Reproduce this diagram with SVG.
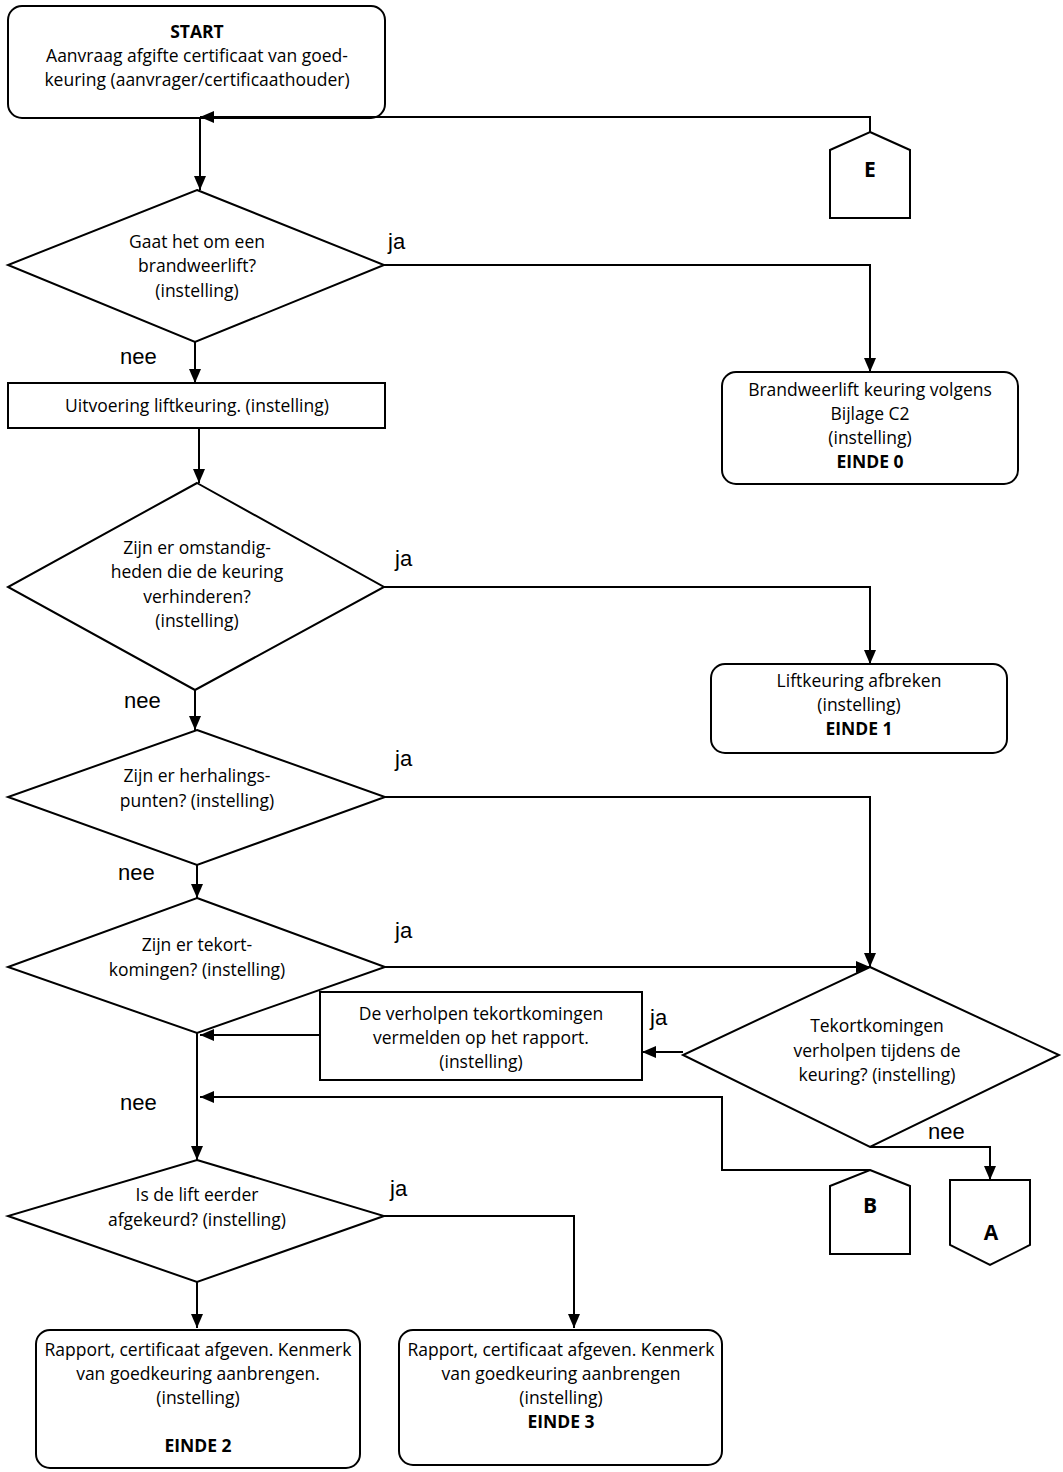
<svg xmlns="http://www.w3.org/2000/svg" width="1063" height="1472" viewBox="0 0 1063 1472">
<defs>
<marker id="arr" viewBox="0 0 14 12" refX="14" refY="6" markerWidth="14" markerHeight="12" markerUnits="userSpaceOnUse" orient="auto">
<path d="M0,0 L14,6 L0,12 Z" fill="#000"/>
</marker>
<style>
.shape{fill:#fff;stroke:#000;stroke-width:2}
.t{font-family:"Open Sans","Liberation Sans",Arial,sans-serif;font-size:17.5px;text-anchor:middle;fill:#000}
.b{font-weight:bold}
.lbl{font-family:"Liberation Sans",Arial,sans-serif;font-size:22px;fill:#000}
.con{fill:none;stroke:#000;stroke-width:2}
.conn .a{marker-end:url(#arr)}
</style>
</defs>
<rect width="1063" height="1472" fill="#fff"/>

<g id="start">
<rect class="shape" x="8" y="6" width="377" height="112" rx="14"/>
<text class="t b" x="197" y="38">START</text>
<text class="t" x="197" y="62">Aanvraag afgifte certificaat van goed-</text>
<text class="t" x="197" y="86">keuring (aanvrager/certificaathouder)</text>
</g>

<g id="E">
<polygon class="shape" points="870,132 910,150 910,218 830,218 830,150"/>
<text class="t b" x="870" y="177" style="font-size:21px">E</text>
</g>

<g id="q1">
<polygon class="shape" points="197,190 384,265 195,342 8,265"/>
<text class="t" x="197" y="248">Gaat het om een</text>
<text class="t" x="197" y="272">brandweerlift?</text>
<text class="t" x="197" y="297">(instelling)</text>
</g>

<g id="einde0">
<rect class="shape" x="722" y="372" width="296" height="112" rx="14"/>
<text class="t" x="870" y="396">Brandweerlift keuring volgens</text>
<text class="t" x="870" y="420">Bijlage C2</text>
<text class="t" x="870" y="444">(instelling)</text>
<text class="t b" x="870" y="468">EINDE 0</text>
</g>

<g id="uitvoering">
<rect class="shape" x="8" y="383" width="377" height="45"/>
<text class="t" x="197" y="412">Uitvoering liftkeuring. (instelling)</text>
</g>

<g id="q2">
<polygon class="shape" points="197,483 384,587 195,690 8,587"/>
<text class="t" x="197" y="554">Zijn er omstandig-</text>
<text class="t" x="197" y="578">heden die de keuring</text>
<text class="t" x="197" y="603">verhinderen?</text>
<text class="t" x="197" y="627">(instelling)</text>
</g>

<g id="einde1">
<rect class="shape" x="711" y="664" width="296" height="89" rx="14"/>
<text class="t" x="859" y="687">Liftkeuring afbreken</text>
<text class="t" x="859" y="711">(instelling)</text>
<text class="t b" x="859" y="735">EINDE 1</text>
</g>

<g id="q3">
<polygon class="shape" points="197,730 385,797 197,865 8,797"/>
<text class="t" x="197" y="782">Zijn er herhalings-</text>
<text class="t" x="197" y="807">punten? (instelling)</text>
</g>

<g id="q4">
<polygon class="shape" points="197,898 385,967 197,1033 8,967"/>
<text class="t" x="197" y="951">Zijn er tekort-</text>
<text class="t" x="197" y="976">komingen? (instelling)</text>
</g>

<g id="q5">
<polygon class="shape" points="870,967 1059,1055 870,1147 683,1055"/>
<text class="t" x="877" y="1032">Tekortkomingen</text>
<text class="t" x="877" y="1057">verholpen tijdens de</text>
<text class="t" x="877" y="1081">keuring? (instelling)</text>
</g>

<g id="vermelden">
<rect class="shape" x="320" y="992" width="322" height="88"/>
<text class="t" x="481" y="1020">De verholpen tekortkomingen</text>
<text class="t" x="481" y="1044">vermelden op het rapport.</text>
<text class="t" x="481" y="1068">(instelling)</text>
</g>

<g id="B">
<polygon class="shape" points="870,1170 910,1186 910,1254 830,1254 830,1186"/>
<text class="t b" x="870" y="1213" style="font-size:21px">B</text>
</g>

<g id="A">
<polygon class="shape" points="950,1180 1030,1180 1030,1245 990,1265 950,1245"/>
<text class="t b" x="991" y="1240" style="font-size:21px">A</text>
</g>

<g id="q6">
<polygon class="shape" points="197,1160 384,1216 197,1282 8,1216"/>
<text class="t" x="197" y="1201">Is de lift eerder</text>
<text class="t" x="197" y="1226">afgekeurd? (instelling)</text>
</g>

<g id="einde2">
<rect class="shape" x="36" y="1330" width="324" height="138" rx="14"/>
<text class="t" x="198" y="1356">Rapport, certificaat afgeven. Kenmerk</text>
<text class="t" x="198" y="1380">van goedkeuring aanbrengen.</text>
<text class="t" x="198" y="1404">(instelling)</text>
<text class="t b" x="198" y="1452">EINDE 2</text>
</g>

<g id="einde3">
<rect class="shape" x="399" y="1330" width="323" height="135" rx="14"/>
<text class="t" x="561" y="1356">Rapport, certificaat afgeven. Kenmerk</text>
<text class="t" x="561" y="1380">van goedkeuring aanbrengen</text>
<text class="t" x="561" y="1404">(instelling)</text>
<text class="t b" x="561" y="1428">EINDE 3</text>
</g>

<g id="connectors" class="conn">
<polyline class="con a" points="870,132 870,117 200,117"/>
<polyline class="con a" points="200,119 200,190"/>
<polyline class="con a" points="384,265 870,265 870,372"/>
<polyline class="con a" points="195,342 195,383"/>
<polyline class="con a" points="199,428 199,483"/>
<polyline class="con a" points="384,587 870,587 870,664"/>
<polyline class="con a" points="195,690 195,730"/>
<polyline class="con a" points="385,797 870,797 870,967"/>
<polyline class="con a" points="197,865 197,898"/>
<polyline class="con a" points="385,967 870,967"/>
<polyline class="con a" points="683,1052 642,1052"/>
<polyline class="con a" points="320,1035 200,1035"/>
<polyline class="con a" points="197,1033 197,1160"/>
<polyline class="con a" points="870,1170 722,1170 722,1097 200,1097"/>
<polyline class="con a" points="870,1147 990,1147 990,1180"/>
<polyline class="con a" points="384,1216 574,1216 574,1328"/>
<polyline class="con a" points="197,1282 197,1328"/>
<text class="lbl" x="388" y="249">ja</text>
<text class="lbl" x="120" y="364">nee</text>
<text class="lbl" x="395" y="566">ja</text>
<text class="lbl" x="124" y="708">nee</text>
<text class="lbl" x="395" y="766">ja</text>
<text class="lbl" x="118" y="880">nee</text>
<text class="lbl" x="395" y="938">ja</text>
<text class="lbl" x="650" y="1025">ja</text>
<text class="lbl" x="120" y="1110">nee</text>
<text class="lbl" x="928" y="1139">nee</text>
<text class="lbl" x="390" y="1196">ja</text>
</g>
</svg>
